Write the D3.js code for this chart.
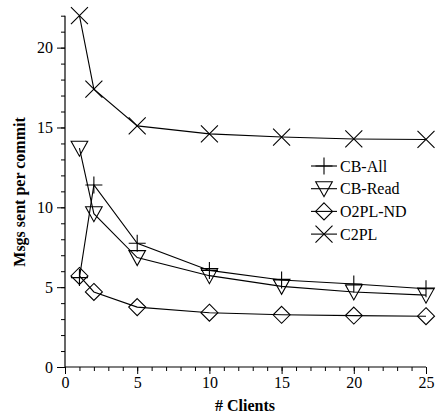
<!DOCTYPE html>
<html>
<head>
<meta charset="utf-8">
<script src="https://cdn.jsdelivr.net/npm/d3@7"></script>
<style>
  html, body { margin: 0; padding: 0; background: #fff; }
  svg { display: block; }
</style>
</head>
<body>
<svg id="chart" width="437" height="417"></svg>
<script>
// Number of clients on the x axis
const clients = [1, 2, 5, 10, 15, 20, 25];

// Messages sent per commit, one array per protocol
const cbAll   = [5.6, 11.4, 7.75, 6.05, 5.45, 5.2, 4.9];
const cbRead  = [13.7, 9.6, 6.85, 5.72, 5.05, 4.7, 4.5];
const o2plNd  = [5.7, 4.7, 3.75, 3.4, 3.27, 3.22, 3.18];
const c2pl    = [22.0, 17.4, 15.1, 14.6, 14.4, 14.28, 14.25];

const seriesNames = ["CB-All", "CB-Read", "O2PL-ND", "C2PL"];
const seriesValues = [cbAll, cbRead, o2plNd, c2pl];
const seriesMarkers = ["plus", "triangle", "diamond", "cross"];

const xTickLabels = [0, 5, 10, 15, 20, 25];
const yTickLabels = [0, 5, 10, 15, 20];

const serif = "'Liberation Serif', 'Times New Roman', Times, 'DejaVu Serif', serif";

const svg = d3.select("#chart").attr("font-family", serif);
const plotLeft = 65, plotRight = 426, plotTop = 15.7, plotBottom = 367;

const x = d3.scaleLinear().domain([0, 25]).range([plotLeft, plotRight]);
const y = d3.scaleLinear().domain([0, 22]).range([plotBottom, plotTop]);

// Marker shapes, drawn as open outlines centred on (0,0)
function markerPath(kind) {
  const r = 8.5;
  switch (kind) {
    case "plus": return `M${-r},0H${r}M0,${-r}V${r}`;
    case "cross": return `M${-r},${-r}L${r},${r}M${-r},${r}L${r},${-r}`;
    case "diamond": return `M0,${-r}L${r},0L0,${r}L${-r},0Z`;
    case "triangle": return `M${-8.3},-7L8.3,-7L0,8Z`;
  }
}

// Axes
const xAxisMinor = d3.axisBottom(x).tickValues(d3.range(0, 26, 1)).tickSize(4).tickFormat("");
const xAxisMajor = d3.axisBottom(x).tickValues(xTickLabels).tickSize(7).tickPadding(3);
const yAxisMinor = d3.axisLeft(y).tickValues(d3.range(0, 23, 1)).tickSize(4).tickFormat("");
const yAxisMajor = d3.axisLeft(y).tickValues(yTickLabels).tickSize(8).tickPadding(4);

function styleAxis(g) {
  g.attr("font-family", serif).attr("font-size", 16);
  g.select(".domain").remove();
  g.selectAll("line").attr("stroke", "#000").attr("stroke-width", 1);
  g.selectAll("text").attr("fill", "#000");
}

svg.append("g").attr("transform", `translate(0,${plotBottom})`).call(xAxisMinor).call(styleAxis);
svg.append("g").attr("transform", `translate(0,${plotBottom})`).call(xAxisMajor).call(styleAxis);
svg.append("g").attr("transform", `translate(${plotLeft},0)`).call(yAxisMinor).call(styleAxis);
svg.append("g").attr("transform", `translate(${plotLeft},0)`).call(yAxisMajor).call(styleAxis);

// Axis lines
svg.append("line").attr("x1", plotLeft).attr("x2", plotRight).attr("y1", plotBottom).attr("y2", plotBottom)
  .attr("stroke", "#000").attr("stroke-width", 1.2);
svg.append("line").attr("x1", plotLeft).attr("x2", plotLeft).attr("y1", plotBottom).attr("y2", plotTop)
  .attr("stroke", "#000").attr("stroke-width", 1.2);

// Axis titles
svg.append("text").attr("x", 245).attr("y", 411).attr("text-anchor", "middle")
  .attr("font-size", 16).attr("font-weight", "bold").text("# Clients");
svg.append("text").attr("transform", "translate(25,192) rotate(-90)").attr("text-anchor", "middle")
  .attr("font-size", 16).attr("font-weight", "bold").text("Msgs sent per commit");

// Series lines and markers
const line = d3.line().x((d, i) => x(clients[i])).y(d => y(d));

seriesValues.forEach((vals, s) => {
  svg.append("path").datum(vals).attr("d", line)
    .attr("fill", "none").attr("stroke", "#000").attr("stroke-width", 1.1);
  svg.append("g").selectAll("path").data(vals).join("path")
    .attr("transform", (d, i) => `translate(${x(clients[i])},${y(d)})`)
    .attr("d", markerPath(seriesMarkers[s]))
    .attr("fill", "none").attr("stroke", "#000").attr("stroke-width", 1.1);
});

// Legend
const legend = svg.append("g").attr("transform", "translate(311,166)");
const rows = legend.selectAll("g").data(seriesNames).join("g")
  .attr("transform", (d, i) => `translate(0,${i * 22.7})`);
rows.append("line").attr("x1", 0).attr("x2", 26).attr("y1", 0).attr("y2", 0)
  .attr("stroke", "#000").attr("stroke-width", 1.1);
rows.append("path").attr("transform", "translate(13,0)")
  .attr("d", (d, i) => markerPath(seriesMarkers[i]))
  .attr("fill", "none").attr("stroke", "#000").attr("stroke-width", 1.1);
rows.append("text").attr("x", 29).attr("y", 5.5).attr("font-size", 16).text(d => d);
</script>
</body>
</html>
